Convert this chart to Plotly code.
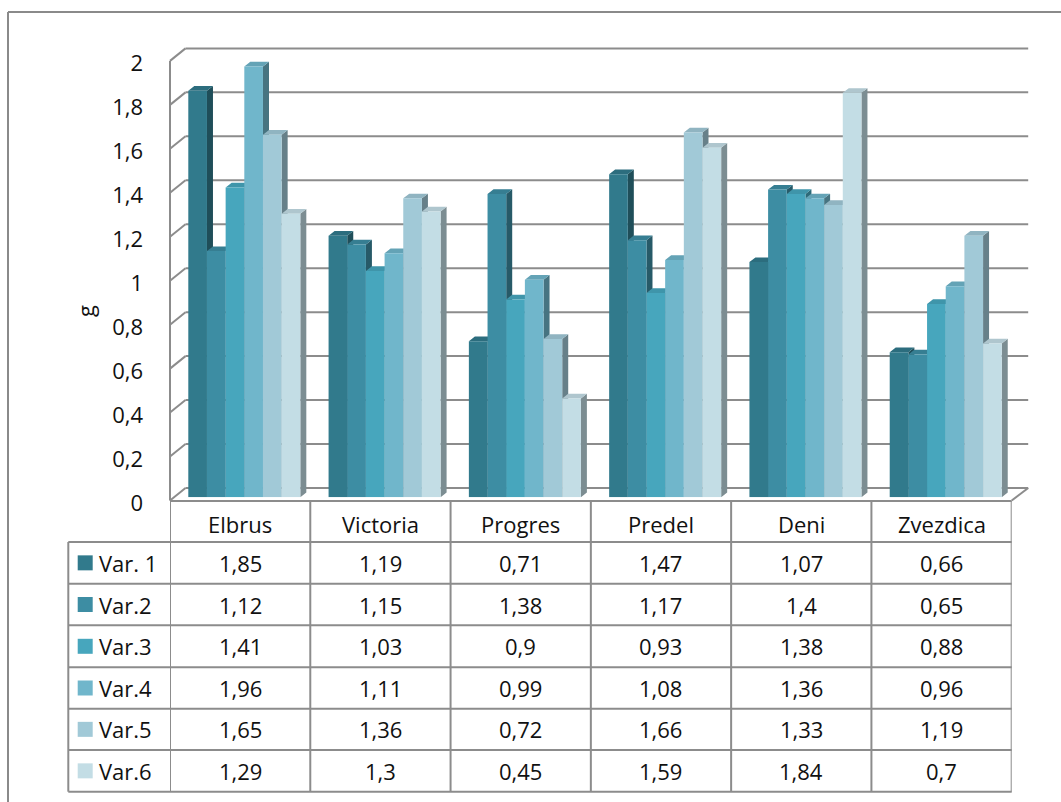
import plotly.graph_objects as go

# ---- data ---------------------------------------------------------------
categories = ["Elbrus", "Victoria", "Progres", "Predel", "Deni", "Zvezdica"]
series_names = ["Var. 1", "Var.2", "Var.3", "Var.4", "Var.5", "Var.6"]
var1 = [1.85, 1.19, 0.71, 1.47, 1.07, 0.66]
var2 = [1.12, 1.15, 1.38, 1.17, 1.4, 0.65]
var3 = [1.41, 1.03, 0.9, 0.93, 1.38, 0.88]
var4 = [1.96, 1.11, 0.99, 1.08, 1.36, 0.96]
var5 = [1.65, 1.36, 0.72, 1.66, 1.33, 1.19]
var6 = [1.29, 1.3, 0.45, 1.59, 1.84, 0.7]
series_values = [var1, var2, var3, var4, var5, var6]
y_ticks = [0, 0.2, 0.4, 0.6, 0.8, 1.0, 1.2, 1.4, 1.6, 1.8, 2.0]
y_title = "g"

# ---- styling ------------------------------------------------------------
front_colors = ["#317A8C", "#3D8DA3", "#47A6BD", "#70B6CB", "#A1C9D7", "#C3DDE5"]


def shade(hex_color, k):
    r, g, b = (int(hex_color[i:i + 2], 16) for i in (1, 3, 5))
    return "rgb({},{},{})".format(int(r * k), int(g * k), int(b * k))


top_colors = [shade(c, 0.9) for c in front_colors]
side_colors = [shade(c, 0.64) for c in front_colors]

FONT = "Open Sans"
FS = 22
TXT = "#111111"
GRID = "#8c8c8c"

W, H = 1061, 802


def px(x):
    return x / W


def py(y):
    return 1 - y / H


# plot geometry (pixels)
X_LEFT, X_RIGHT = 170.0, 1011.7          # front plane / table columns
Y_ZERO, Y_TOP = 497.3, 57.7              # bar value 0 and 2
UNIT = (Y_ZERO - Y_TOP) / 2.0
FRONT_ZERO = 500.5                       # front edge of the floor
BACK_DX, BACK_ZERO = 15.5, 488.0         # back wall offset
COL_W = (X_RIGHT - X_LEFT) / len(categories)

bar_w = 18.67 / COL_W
bar_start = (18.3 - COL_W / 2) / COL_W
depth_x = 6.0 / COL_W
depth_y = 4.7 / UNIT

fig = go.Figure()

# side and top faces of every column (drawn underneath the front faces)
for k, vals in enumerate(series_values):
    tx, ty, sx, sy = [], [], [], []
    for i, v in enumerate(vals):
        x0 = i + bar_start + k * bar_w
        x1 = x0 + bar_w
        tx += [x0, x1, x1 + depth_x, x0 + depth_x, x0, None]
        ty += [v, v, v + depth_y, v + depth_y, v, None]
        sx += [x1, x1, x1 + depth_x, x1 + depth_x, x1, None]
        sy += [0, v, v + depth_y, depth_y, 0, None]
    fig.add_trace(go.Scatter(x=sx, y=sy, mode="lines", fill="toself",
                             fillcolor=side_colors[k], line=dict(width=0),
                             hoverinfo="skip", showlegend=False,
                             xaxis="x", yaxis="y"))
    fig.add_trace(go.Scatter(x=tx, y=ty, mode="lines", fill="toself",
                             fillcolor=top_colors[k], line=dict(width=0),
                             hoverinfo="skip", showlegend=False,
                             xaxis="x", yaxis="y"))

# front faces
for k, vals in enumerate(series_values):
    fig.add_trace(go.Bar(
        x=list(range(len(categories))), y=vals, name=series_names[k],
        offset=bar_start + k * bar_w, width=bar_w,
        marker=dict(color=front_colors[k], line=dict(width=0)),
        showlegend=False, xaxis="x2", yaxis="y2"))

shapes = []


def seg(x0, y0, x1, y1, color=GRID, width=2, layer="below"):
    shapes.append(dict(type="line", xref="paper", yref="paper",
                       x0=px(x0), y0=py(y0), x1=px(x1), y1=py(y1),
                       line=dict(color=color, width=width), layer=layer))


# walls: back gridlines and left-wall connectors
for v in y_ticks:
    yb = BACK_ZERO - v * UNIT
    yf = FRONT_ZERO - v * UNIT
    seg(X_LEFT + BACK_DX, yb, X_RIGHT + BACK_DX + 1, yb)
    seg(X_LEFT, yf, X_LEFT + BACK_DX, yb)
seg(X_LEFT, FRONT_ZERO, X_LEFT, FRONT_ZERO - 2 * UNIT)
seg(X_RIGHT, FRONT_ZERO, X_RIGHT + BACK_DX + 1, BACK_ZERO)

# data table
row_edges = [542.0, 583.7, 625.3, 667.3, 708.7, 750.0, 791.7]
TABLE_TOP = 501.0
LEGEND_LEFT = 68.3
seg(X_LEFT, TABLE_TOP, X_RIGHT, TABLE_TOP, layer="above")
for y in row_edges:
    seg(LEGEND_LEFT, y, X_RIGHT, y, layer="above")
seg(LEGEND_LEFT, row_edges[0], LEGEND_LEFT, row_edges[-1], layer="above")
for j in range(len(categories) + 1):
    shapes.append(dict(type="line", xref="x", yref="paper",
                       x0=j - 0.5, x1=j - 0.5, y0=py(TABLE_TOP), y1=py(row_edges[-1]),
                       line=dict(color=GRID, width=2), layer="above"))

# outer chart frame
seg(8, 12, W + 5, 12, color="#8a8a8a", width=2, layer="above")
seg(8, 12, 8, H + 5, color="#8a8a8a", width=2, layer="above")

annotations = []
for i, c in enumerate(categories):
    annotations.append(dict(text=c, x=i, xref="x", y=py((TABLE_TOP + row_edges[0]) / 2 + 2),
                            yref="paper", showarrow=False, xanchor="center",
                            yanchor="middle", font=dict(family=FONT, size=FS, color=TXT)))
for k, vals in enumerate(series_values):
    yc = (row_edges[k] + row_edges[k + 1]) / 2
    shapes.append(dict(type="rect", xref="paper", yref="paper",
                       x0=px(77.7), x1=px(92.7), y0=py(yc - 7.5), y1=py(yc + 7.5),
                       fillcolor=front_colors[k], line=dict(width=0), layer="above"))
    annotations.append(dict(text=series_names[k], x=px(97), xref="paper", y=py(yc),
                            yref="paper", showarrow=False, xanchor="left",
                            yanchor="middle", font=dict(family=FONT, size=FS, color=TXT)))
    for i, v in enumerate(vals):
        annotations.append(dict(text=str(v).replace(".", ","), x=i, xref="x",
                                y=py(yc), yref="paper", showarrow=False,
                                xanchor="center", yanchor="middle",
                                font=dict(family=FONT, size=FS, color=TXT)))

annotations.append(dict(text=y_title, x=px(85), y=py(311), xref="paper", yref="paper",
                        xanchor="center", yanchor="middle",
                        showarrow=False, textangle=-90,
                        font=dict(family=FONT, size=FS, color=TXT)))

xdom = [px(X_LEFT), px(X_RIGHT)]
ydom = [py(Y_ZERO), py(Y_TOP)]
xr = [-0.5, len(categories) - 0.5]

fig.update_layout(
    width=W, height=H, margin=dict(l=0, r=0, t=0, b=0, autoexpand=False),
    paper_bgcolor="white", plot_bgcolor="rgba(0,0,0,0)",
    separators=", ", barmode="overlay",
    xaxis=dict(domain=xdom, range=xr, visible=False, fixedrange=True),
    yaxis=dict(domain=ydom, range=[0, 2], tickvals=y_ticks, showgrid=False,
               zeroline=False, showline=False, ticks="", automargin=False,
               ticklabelstandoff=26, ticklabelshift=6,
               tickfont=dict(family=FONT, size=FS, color=TXT)),
    xaxis2=dict(overlaying="x", range=xr, visible=False, matches="x"),
    yaxis2=dict(overlaying="y", range=[0, 2], visible=False, matches="y"),
    shapes=shapes, annotations=annotations,
)

fig.write_html("out.html")
